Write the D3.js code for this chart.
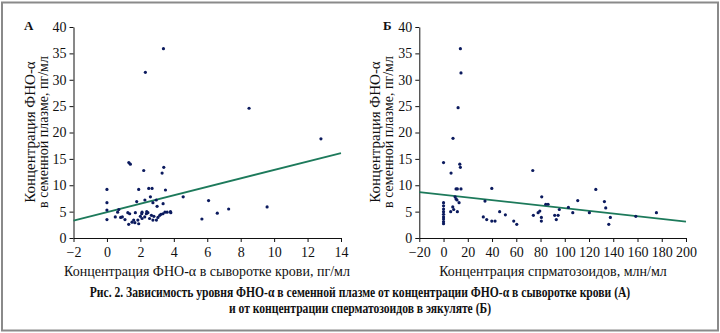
<!DOCTYPE html>
<meta charset="utf-8">
<script src="https://d3js.org/d3.v7.min.js"></script>
<style>
  body { margin: 0; background: #fff; }
  svg text { font-family: "Liberation Serif", "DejaVu Serif", serif; fill: #111; }
</style>
<div id="chart"></div>
<script>

// ---- data ----
// panel A: serum TNF-a (x) vs seminal plasma TNF-a (y)
var serumX = [0,0,0,0, 1.31,1.40,2.2,3.3,3.4, 1.9,2.5,2.7,3.5,2.6,1.78,2.27,2.75,2.95,3.36,3.0,
  0.5,0.64,0.71,0.82,0.92,1.08,1.25,1.36,1.3,1.5,1.6,1.67,1.7,1.85,1.9,2.0,2.08,2.1,2.1,2.26,2.36,2.38,2.45,
  2.55,2.66,2.75,2.81,2.96,3.05,3.16,3.23,3.35,3.47,3.6,3.8,3.82,
  4.56,6.08,6.6,7.28,9.58,5.68, 2.3,3.38,8.5,12.8];
var plasmaA = [9.2,6.7,5.3,3.5, 14.3,14.0,12.8,12.3,13.4, 9.2,9.4,9.4,9.1,7.8,6.9,7.2,6.7,7.2,6.5,6.0,
  4.0,4.9,5.4,3.9,4.0,3.5,4.8,4.6,2.6,3.0,3.4,2.9,4.8,3.4,2.7,4.1,4.6,4.9,3.7,4.0,4.6,5.0,4.8,
  3.7,4.3,3.4,4.1,3.4,3.9,4.3,4.5,4.6,4.9,4.9,5.0,4.8,
  7.8,7.1,4.7,5.5,5.9,3.6, 31.4,35.9,24.6,18.8];
var trendAx = [-2, 14];
var trendAy = [3.3, 16.1];

// panel Б: sperm concentration (x) vs seminal plasma TNF-a (y)
var spermX = [0,0,0,0,0,0,0,0,0,0,
  6.2,13.4,13.9,10.3,11.4,14.4,9.5,10.3,11.1,7.6,8.4,5.9,11.4,12.8,
  34.2,32.8,35.6,39.8,42.5,39.8,46.3,51,57.9,60.4,73.6,74.1,78,79.4,81,80.7,80.7,84.3,86.2,
  91.7,94.5,93,95.5,103,106.6,110.7,120.3,125.6,132.7,133.8,137.6,136.3,158.6,175.6,
  13.9,14.4,12,7.8];
var plasmaB = [14.3,6.7,6.1,5.5,5.0,4.5,4.0,3.6,3.1,2.7,
  12.3,14.0,13.4,9.3,9.3,9.3,7.8,7.4,7.2,5.9,5.4,5.0,5.0,6.7,
  7.0,4.0,3.5,3.2,3.2,9.4,5.0,4.4,3.2,2.6,12.8,4.3,4.8,5.1,7.8,3.9,3.2,6.4,6.4,
  4.3,4.3,3.5,5.4,5.8,4.8,7.1,4.8,9.2,6.9,5.7,3.9,2.6,4.1,4.8,
  35.9,31.3,24.7,18.9];
var trendBx = [-20, 200];
var trendBy = [8.7, 3.1];

var ticksAx = [-2, 0, 2, 4, 6, 8, 10, 12, 14];
var ticksBx = [-20, 0, 20, 40, 60, 80, 100, 120, 140, 160, 180, 200];
var ticksY = [0, 5, 10, 15, 20, 25, 30, 35, 40];

var W = 720, H = 333;
var svg = d3.select("#chart").append("svg")
    .attr("width", W)
    .attr("height", H);

// outer frame
svg.append("rect")
  .attr("x", 2).attr("y", 2.5)
  .attr("width", W - 4).attr("height", H - 5)
  .attr("fill", "none")
  .attr("stroke", "#8a8a8a")
  .attr("stroke-width", 2);

function panel(opt) {
  var x = d3.scaleLinear().domain(opt.xDomain).range([opt.left, opt.right]);
  var y = d3.scaleLinear().domain([0, 40]).range([238, 27]);

  var g = svg.append("g");

  var gx = g.append("g")
    .attr("transform", "translate(0,238)")
    .call(d3.axisBottom(x).tickValues(opt.xTicks).tickSize(4).tickSizeOuter(0).tickPadding(5));
  var gy = g.append("g")
    .attr("transform", "translate(" + opt.left + ",0)")
    .call(d3.axisLeft(y).tickValues(ticksY).tickSize(4).tickSizeOuter(0).tickPadding(3));

  [gx, gy].forEach(function(a) {
    a.selectAll("path, line").attr("stroke", "#111");
    a.selectAll("text").style("font-size", "14px").attr("fill", "#111");
  });

  // trend line
  var line = d3.line().x(function(d) { return x(d[0]); }).y(function(d) { return y(d[1]); });
  g.append("path")
    .datum(d3.zip(opt.tx, opt.ty))
    .attr("d", line)
    .attr("fill", "none")
    .attr("stroke", "#1d7a5b")
    .attr("stroke-width", 1.8);

  // points
  g.selectAll("circle")
    .data(d3.zip(opt.xs, opt.ys))
    .enter().append("circle")
      .attr("cx", function(d) { return x(d[0]); })
      .attr("cy", function(d) { return y(d[1]); })
      .attr("r", 1.6)
      .attr("fill", "#0b1a5e");

  // panel letter
  g.append("text")
    .attr("x", opt.letterX).attr("y", 30)
    .style("font-size", "13px").style("font-weight", "bold")
    .text(opt.letter);

  // y label (two lines)
  g.append("text")
    .attr("transform", "translate(" + (opt.left - 39) + ",132) rotate(-90)")
    .attr("text-anchor", "middle")
    .style("font-size", "15px")
    .text("Концентрация ФНО-α");
  g.append("text")
    .attr("transform", "translate(" + (opt.left - 26) + ",132) rotate(-90)")
    .attr("text-anchor", "middle")
    .style("font-size", "14px")
    .text("в семенной плазме, пг/мл");

  // x label
  g.append("text")
    .attr("x", opt.xLabelX).attr("y", 276)
    .attr("text-anchor", "middle")
    .style("font-size", "14px")
    .text(opt.xLabel);
}

panel({
  xDomain: [-2, 14], left: 73.5, right: 341, xTicks: ticksAx,
  xs: serumX, ys: plasmaA, tx: trendAx, ty: trendAy,
  letter: "А", letterX: 24,
  xLabel: "Концентрация ФНО-α в сыворотке крови, пг/мл", xLabelX: 207
});

panel({
  xDomain: [-20, 200], left: 419.3, right: 686, xTicks: ticksBx,
  xs: spermX, ys: plasmaB, tx: trendBx, ty: trendBy,
  letter: "Б", letterX: 383,
  xLabel: "Концентрация спрматозоидов, млн/мл", xLabelX: 553
});

// caption: narrow bold face, squeezed horizontally
var cap = svg.append("g")
  .attr("transform", "translate(360,0) scale(0.8,1)");
cap.append("text")
  .attr("x", 0).attr("y", 297)
  .attr("text-anchor", "middle")
  .style("font-size", "14.5px").style("font-weight", "bold")
  .text("Рис. 2. Зависимость уровня ФНО-α в семенной плазме от концентрации ФНО-α в сыворотке крови (А)");
cap.append("text")
  .attr("x", 0).attr("y", 313)
  .attr("text-anchor", "middle")
  .style("font-size", "14.5px").style("font-weight", "bold")
  .text("и от концентрации сперматозоидов в эякуляте (Б)");

</script>
